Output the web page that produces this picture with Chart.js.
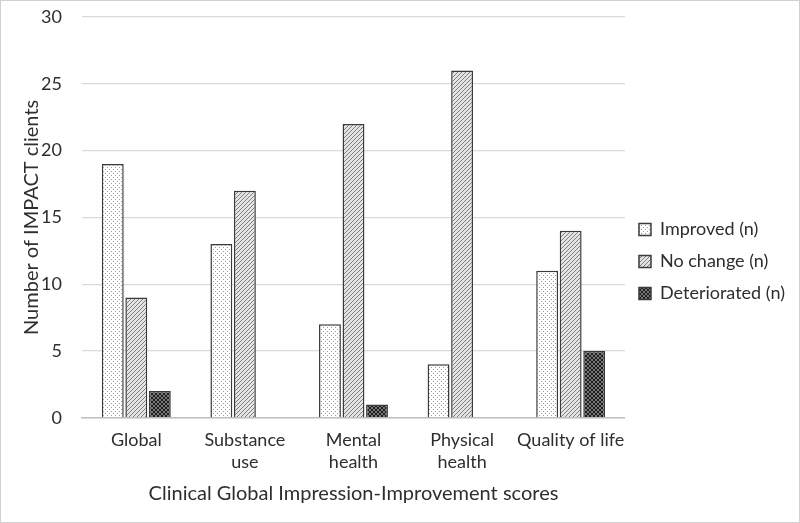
<!DOCTYPE html>
<html>
<head>
<meta charset="utf-8">
<script src="https://cdn.jsdelivr.net/npm/chart.js@4"></script>
<style>
  html, body { margin: 0; padding: 0; background: #fff; }
  #wrap { width: 798px; height: 521px; border: 1px solid #d0d0d0; }
</style>
</head>
<body>
<div id="wrap">
  <canvas id="myChart" width="798" height="521"></canvas>
</div>
<script>
  var categories = [['Global'], ['Substance', 'use'], ['Mental', 'health'], ['Physical', 'health'], ['Quality of life']];
  var improved = [19, 13, 7, 4, 11];
  var noChange = [9, 17, 22, 26, 14];
  var deteriorated = [2, 0, 1, 0, 5];
  var seriesNames = ['Improved (n)', 'No change (n)', 'Deteriorated (n)'];

  // small canvas patterns to mimic the print-style fills
  function dotPattern() {
    var c = document.createElement('canvas');
    c.width = 4; c.height = 4;
    var g = c.getContext('2d');
    g.fillStyle = '#ffffff';
    g.fillRect(0, 0, 4, 4);
    g.fillStyle = '#9a9a9a';
    g.fillRect(0, 0, 1, 1);
    g.fillRect(2, 2, 1, 1);
    return g.createPattern(c, 'repeat');
  }
  function hatchPattern() {
    var c = document.createElement('canvas');
    c.width = 4; c.height = 4;
    var g = c.getContext('2d');
    g.fillStyle = '#e4e4e4';
    g.fillRect(0, 0, 4, 4);
    g.fillStyle = '#7d7d7d';
    for (var i = 0; i < 4; i++) {
      g.fillRect(i, 3 - i, 1, 1);
    }
    return g.createPattern(c, 'repeat');
  }
  function checkPattern() {
    var c = document.createElement('canvas');
    c.width = 4; c.height = 4;
    var g = c.getContext('2d');
    g.fillStyle = '#1e1e1e';
    g.fillRect(0, 0, 4, 4);
    g.fillStyle = '#777777';
    g.fillRect(0, 0, 2, 2);
    g.fillRect(2, 2, 2, 2);
    return g.createPattern(c, 'repeat');
  }

  var fills = [dotPattern(), hatchPattern(), checkPattern()];
  var values = [improved, noChange, deteriorated];

  Chart.defaults.font.family = 'Lato, "Open Sans", sans-serif';
  Chart.defaults.color = '#2e2e2e';

  const ctx = document.getElementById('myChart');

  new Chart(ctx, {
    type: 'bar',
    data: {
      labels: categories,
      datasets: seriesNames.map(function (name, i) {
        return {
          label: name,
          data: values[i],
          backgroundColor: fills[i],
          borderColor: '#3a3a3a',
          borderWidth: 1.5,
          categoryPercentage: 0.65,
          barPercentage: 0.93
        };
      })
    },
    options: {
      responsive: false,
      animation: false,
      layout: { padding: { top: 16, right: 4, left: 19, bottom: 16 } },
      scales: {
        x: {
          grid: { display: false },
          border: { color: '#bfbfbf', width: 1.5 },
          ticks: { font: { size: 18, lineHeight: 1.2 }, color: '#2e2e2e', maxRotation: 0, autoSkip: false, padding: 4 },
          title: { display: true, text: 'Clinical Global Impression-Improvement scores', font: { size: 20 }, color: '#2e2e2e', padding: { top: 5, bottom: 0 } }
        },
        y: {
          min: 0,
          max: 30,
          ticks: { stepSize: 5, font: { size: 18 }, color: '#2e2e2e', padding: 20 },
          grid: { color: '#d9d9d9', lineWidth: 1.2, drawTicks: false },
          border: { display: false },
          title: { display: true, text: 'Number of IMPACT clients', font: { size: 20 }, color: '#2e2e2e', padding: { top: 0, bottom: 0 } },
          afterFit: function (scale) {
            scale.width = 62;
            scale.paddingTop = 0;
          }
        }
      },
      plugins: {
        legend: {
          position: 'right',
          labels: { boxWidth: 12, boxHeight: 12, font: { size: 18 }, color: '#2e2e2e', padding: 14 }
        },
        tooltip: { enabled: false }
      }
    }
  });
</script>
</body>
</html>
